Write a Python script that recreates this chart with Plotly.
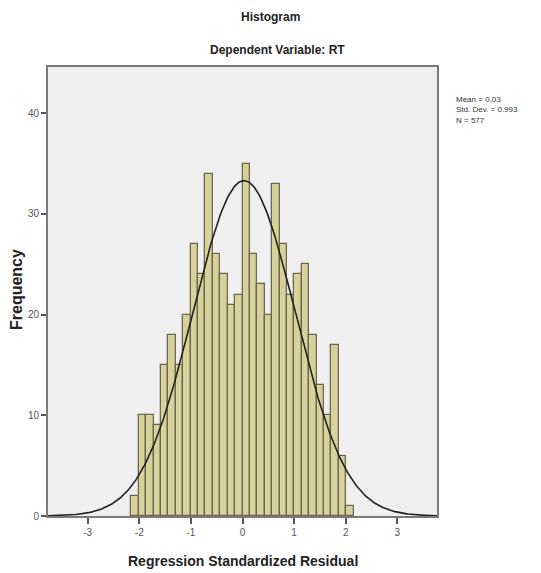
import numpy as np
import plotly.graph_objects as go

# Histogram data
counts = [2, 10, 10, 9, 15, 18, 15, 20, 27, 24, 34, 26, 24, 21, 22,
          35, 26, 23, 20, 33, 27, 22, 24, 25, 18, 13, 10, 17, 6, 1]
bin_start = -2.155
bin_width = 0.1437

# Summary statistics
stat_mean = 0.03
stat_sd = 0.993
stat_n = 577

x_ticks = [-3, -2, -1, 0, 1, 2, 3]
y_ticks = [0, 10, 20, 30, 40]

centers = bin_start + bin_width * (np.arange(len(counts)) + 0.5)

xs = np.linspace(-3.77, 3.77, 400)
ys = stat_n * bin_width * np.exp(-0.5 * ((xs - stat_mean) / stat_sd) ** 2) / (stat_sd * np.sqrt(2 * np.pi))

fig = go.Figure()
fig.add_trace(go.Bar(
    x=centers, y=counts, width=bin_width,
    marker=dict(color="#d8d29a", line=dict(color="#6b6850", width=1.3)),
    showlegend=False, hoverinfo="skip",
))
fig.add_trace(go.Scatter(
    x=xs, y=ys, mode="lines",
    line=dict(color="#222222", width=1.6),
    showlegend=False, hoverinfo="skip",
))

font_family = "Liberation Sans, Arial, sans-serif"
# page has an 8px body margin, so the figure is offset by (8, 8)
W, H = 533, 565
left, right, top, bottom = 40, 104, 59, 57
pw = W - left - right
ph = H - top - bottom
plot_left_page = 48
plot_bottom_page = 516

fig.update_layout(
    width=W, height=H,
    margin=dict(l=left, r=right, t=top, b=bottom, pad=0, autoexpand=False),
    paper_bgcolor="white",
    plot_bgcolor="#efefef",
    font=dict(family=font_family, color="#333333"),
    bargap=0,
    xaxis=dict(
        range=[-3.77, 3.77], tickvals=x_ticks, ticktext=[str(v) for v in x_ticks],
        showgrid=False, zeroline=False, automargin=False,
        showline=True, mirror=True, linecolor="#7a7a7a", linewidth=2,
        ticks="outside", ticklen=6, tickwidth=1.5, tickcolor="#555555",
        tickfont=dict(size=10, color="#555555"),
    ),
    yaxis=dict(
        range=[0, 44.6], tickvals=y_ticks,
        showgrid=False, zeroline=False, automargin=False,
        showline=True, mirror=True, linecolor="#7a7a7a", linewidth=2,
        ticks="outside", ticklen=5, tickwidth=1.5, tickcolor="#555555",
        tickfont=dict(size=10, color="#555555"),
    ),
    annotations=[
        dict(text="<b>Histogram</b>", xref="paper", yref="paper",
             x=(270 - plot_left_page) / pw, y=1, yshift=50, xanchor="center", yanchor="middle",
             showarrow=False, font=dict(size=12, color="#222222")),
        dict(text="<b>Dependent Variable: RT</b>", xref="paper", yref="paper",
             x=(277 - plot_left_page) / pw, y=1, yshift=17, xanchor="center", yanchor="middle",
             showarrow=False, font=dict(size=12, color="#222222")),
        dict(text=f"Mean = {stat_mean}<br>Std. Dev. = {stat_sd}<br>N = {stat_n}",
             xref="paper", yref="paper", x=1, xshift=17, y=1, yshift=-26,
             xanchor="left", yanchor="top", align="left", showarrow=False,
             font=dict(size=8, color="#333333")),
        dict(text="<b>Regression Standardized Residual</b>", xref="paper", yref="paper",
             x=0.5, y=0, yshift=-45, xanchor="center", yanchor="middle",
             showarrow=False, font=dict(size=14, color="#222222")),
        dict(text="<b>Frequency</b>", xref="paper", yref="paper",
             x=0, xshift=-32, y=(plot_bottom_page - 290) / ph, textangle=-90,
             xanchor="center", yanchor="middle",
             showarrow=False, font=dict(size=16, color="#222222")),
    ],
)

fig.write_html("out.html")
